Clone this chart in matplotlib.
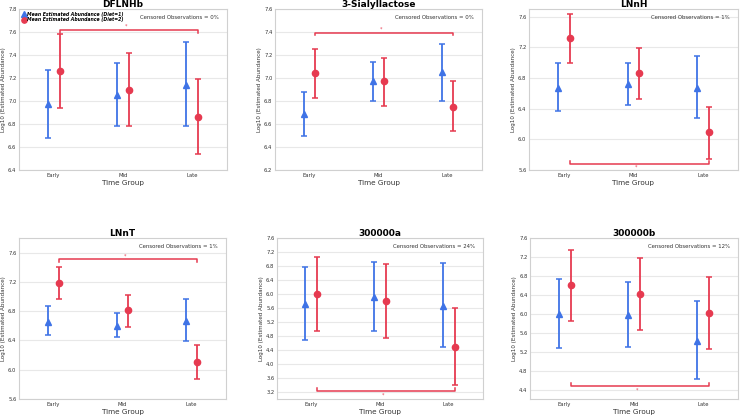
import numpy as np
import matplotlib
matplotlib.use("Agg")
import matplotlib.pyplot as plt
from matplotlib.lines import Line2D

# ---- data ----
groups = ["Early", "Mid", "Late"]
titles = ["DFLNHb", "3-Sialyllactose", "LNnH", "LNnT", "300000a", "300000b"]
censored = ["0%", "0%", "1%", "1%", "24%", "12%"]

# Diet=1 (blue triangles): mean, lower, upper
d1_mean = [[6.97, 7.05, 7.14], [6.69, 6.97, 7.05], [6.67, 6.72, 6.67],
           [6.65, 6.60, 6.67], [5.71, 5.92, 5.66], [5.99, 5.98, 5.43]]
d1_lo = [[6.68, 6.78, 6.78], [6.50, 6.80, 6.80], [6.37, 6.45, 6.28],
         [6.47, 6.45, 6.39], [4.69, 4.95, 4.50], [5.27, 5.29, 4.62]]
d1_hi = [[7.27, 7.33, 7.51], [6.88, 7.14, 7.30], [6.99, 7.00, 7.09],
         [6.87, 6.78, 6.97], [6.77, 6.92, 6.89], [6.73, 6.68, 6.28]]

# Diet=2 (red circles)
d2_mean = [[7.26, 7.10, 6.86], [7.04, 6.97, 6.75], [7.32, 6.86, 6.09],
           [7.19, 6.81, 6.11], [6.01, 5.80, 4.50], [6.61, 6.41, 6.01]]
d2_lo = [[6.94, 6.78, 6.54], [6.83, 6.76, 6.54], [7.00, 6.53, 5.74],
         [6.97, 6.58, 5.88], [4.95, 4.74, 3.39], [5.85, 5.66, 5.25]]
d2_hi = [[7.58, 7.42, 7.19], [7.25, 7.17, 6.97], [7.64, 7.19, 6.42],
         [7.40, 7.02, 6.34], [7.06, 6.87, 5.59], [7.34, 7.17, 6.77]]

# significance bracket (Early vs Late, Diet=2)
bracket_y = [7.62, 7.395, 5.68, 7.51, 3.22, 4.475]
bracket_up = [True, True, False, True, False, False]

# axis ranges and ticks
ylims = [(6.4, 7.8), (6.2, 7.6), (5.6, 7.7), (5.6, 7.8), (3.0, 7.6), (4.2, 7.6)]
yticks = [np.arange(6.4, 7.81, 0.2), np.arange(6.2, 7.61, 0.2),
          np.arange(5.6, 7.61, 0.4), np.arange(5.6, 7.61, 0.4),
          np.arange(3.2, 7.61, 0.4), np.arange(4.4, 7.61, 0.4)]

BLUE = "#3f73e6"
RED = "#e63a50"
GRID = "#e8e8e8"
SPINE = "#d0d0d0"
TXT = "#333333"

W, H = 740, 415
fig = plt.figure(figsize=(W / 100, H / 100), dpi=100)
plt.rcParams["font.family"] = ["DejaVu Sans"]

# axes boxes in pixels: left, top, right, bottom
boxes = [(19, 9, 227, 170), (275, 9, 482, 170), (529, 9, 738, 170),
         (19, 238, 226, 399), (277, 238, 483, 399), (530, 238, 738, 399)]

off = 0.085
x = np.arange(len(groups))

for i in range(6):
    l, t, r, b = boxes[i]
    ax = fig.add_axes([l / W, 1 - b / H, (r - l) / W, (b - t) / H])

    ax.errorbar(x - off, d1_mean[i],
                yerr=[np.array(d1_mean[i]) - np.array(d1_lo[i]),
                      np.array(d1_hi[i]) - np.array(d1_mean[i])],
                fmt="^", color=BLUE, ms=4.5, elinewidth=1.3, capsize=2.2,
                capthick=1.1, zorder=3)
    ax.errorbar(x + off, d2_mean[i],
                yerr=[np.array(d2_mean[i]) - np.array(d2_lo[i]),
                      np.array(d2_hi[i]) - np.array(d2_mean[i])],
                fmt="o", color=RED, ms=4.5, elinewidth=1.3, capsize=2.2,
                capthick=1.1, zorder=3)

    # bracket
    y0, y1 = ylims[i]
    hook = (y1 - y0) * 0.018
    by = bracket_y[i]
    if bracket_up[i]:
        ax.plot([off, off, 2 + off, 2 + off], [by - hook, by, by, by - hook],
                color=RED, lw=1.1, zorder=2)
        ax.text(1 + off / 2, by + hook * 0.3, "*", color=RED, fontsize=3.5,
                ha="center", va="bottom")
    else:
        ax.plot([off, off, 2 + off, 2 + off], [by + hook, by, by, by + hook],
                color=RED, lw=1.1, zorder=2)
        ax.text(1 + off / 2, by - hook * 0.4, "*", color=RED, fontsize=3.5,
                ha="center", va="top")

    ax.set_xlim(-0.5, 2.5)
    ax.set_ylim(y0, y1)
    ax.set_yticks(yticks[i])
    ax.set_yticklabels([f"{v:.1f}" for v in yticks[i]])
    ax.set_xticks(x)
    ax.set_xticklabels(groups)
    ax.tick_params(labelsize=3.8, length=0, pad=1.8, colors=TXT)
    ax.grid(axis="y", color=GRID, lw=0.8)
    ax.set_axisbelow(True)
    for s in ax.spines.values():
        s.set_color(SPINE)
        s.set_linewidth(0.8)

    ax.set_title(titles[i], fontsize=6.5, fontweight="bold", pad=1.5)
    ax.set_xlabel("Time Group", fontsize=5.2, color=TXT, labelpad=2)
    ax.set_ylabel("Log10 (Estimated Abundance)", fontsize=4.1, color=TXT,
                  labelpad=1.2)
    ax.text(0.96, 0.96, "Censored Observations = " + censored[i],
            transform=ax.transAxes, ha="right", va="top", fontsize=3.9,
            color=TXT)

    if i == 0:
        handles = [
            Line2D([], [], marker="^", color=BLUE, ls="none", ms=3.8),
            Line2D([], [], marker="o", color=RED, ls="none", ms=3.8),
        ]
        leg = ax.legend(handles, ["Mean Estimated Abundance (Diet=1)",
                                  "Mean Estimated Abundance (Diet=2)"],
                        loc="upper left", frameon=False, handletextpad=0.1,
                        handlelength=1.0, borderaxespad=0.2, labelspacing=0.15,
                        prop={"size": 3.3, "weight": "bold", "style": "italic"})

fig.savefig("out.png", dpi=100)
